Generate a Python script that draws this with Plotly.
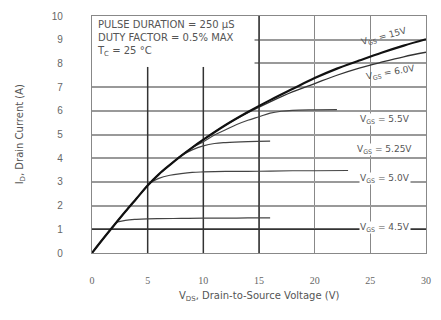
import plotly.graph_objects as go

# Output characteristics: drain current vs drain-to-source voltage
vds_main = [0, 1, 2, 3, 4, 5, 6, 7, 8, 9, 10, 12, 14, 16, 18, 20, 22, 24, 26, 28, 30]
id_15v = [0, 0.6, 1.18, 1.75, 2.3, 2.85, 3.32, 3.72, 4.1, 4.45, 4.78, 5.4, 5.95,
          6.45, 6.92, 7.38, 7.78, 8.12, 8.45, 8.75, 9.02]

vds_6v = [0, 1, 2, 3, 4, 5, 6, 7, 8, 9, 10, 12, 14, 16, 18, 20, 22, 24, 26, 28, 30]
id_6v = [0, 0.6, 1.18, 1.75, 2.3, 2.85, 3.32, 3.72, 4.1, 4.45, 4.78, 5.4, 5.92,
         6.38, 6.8, 7.15, 7.5, 7.8, 8.05, 8.28, 8.47]

vds_55v = [9, 10, 11, 12, 13, 14, 15, 16, 17, 18, 20, 22]
id_55v = [4.45, 4.7, 4.98, 5.2, 5.42, 5.6, 5.75, 5.9, 5.98, 6.02, 6.04, 6.05]

vds_525v = [7.5, 8, 9, 10, 11, 12, 14, 16]
id_525v = [3.92, 4.1, 4.35, 4.52, 4.62, 4.66, 4.7, 4.72]

vds_5v = [5.2, 6, 7, 8, 9, 10, 12, 15, 18, 20, 23]
id_5v = [2.95, 3.15, 3.28, 3.35, 3.4, 3.42, 3.44, 3.45, 3.47, 3.47, 3.48]

vds_45v = [2.2, 3, 4, 5, 6, 8, 10, 12, 14, 16]
id_45v = [1.3, 1.38, 1.42, 1.44, 1.45, 1.46, 1.47, 1.47, 1.48, 1.48]

x_ticks = [0, 5, 10, 15, 20, 25, 30]
y_ticks = [0, 1, 2, 3, 4, 5, 6, 7, 8, 9, 10]

curve_labels = ["V<sub>GS</sub> = 15V", "V<sub>GS</sub> = 6.0V", "V<sub>GS</sub> = 5.5V",
                "V<sub>GS</sub> = 5.25V", "V<sub>GS</sub> = 5.0V", "V<sub>GS</sub> = 4.5V"]
label_x = [26.3, 26.9, 26.3, 26.3, 26.3, 26.3]
label_y = [9.12, 7.62, 5.63, 4.38, 3.13, 1.08]
label_angle = [-15, -10, 0, 0, 0, 0]

TXT = "DejaVu Sans, Verdana, sans-serif"
GRAY = "#555"

fig = go.Figure()

branches = [
    (vds_6v, id_6v, 1.3, "#333"),
    (vds_55v, id_55v, 1.2, "#444"),
    (vds_525v, id_525v, 1.2, "#444"),
    (vds_5v, id_5v, 1.2, "#444"),
    (vds_45v, id_45v, 1.2, "#444"),
]
for xs, ys, w, c in branches:
    fig.add_trace(go.Scatter(x=xs, y=ys, mode="lines",
                             line=dict(color=c, width=w, shape="spline"),
                             hoverinfo="skip", showlegend=False))
fig.add_trace(go.Scatter(x=vds_main, y=id_15v, mode="lines",
                         line=dict(color="#111", width=2.2, shape="spline"),
                         hoverinfo="skip", showlegend=False))

# white note box in the upper-left corner, over the grid
fig.add_shape(type="rect", x0=0, x1=14.6, y0=7.85, y1=10, layer="between",
              line=dict(width=0), fillcolor="white")

# heavier grid lines
dark = "#333"
for xv, ytop in [(5, 7.85), (10, 7.85), (15, 10)]:
    fig.add_shape(type="line", x0=xv, x1=xv, y0=0, y1=ytop, layer="between",
                  line=dict(color=dark, width=1.5))
fig.add_shape(type="line", x0=0, x1=30, y0=1, y1=1, layer="between",
              line=dict(color=dark, width=1.6))

for txt, xv, yv, ang in zip(curve_labels, label_x, label_y, label_angle):
    fig.add_annotation(x=xv, y=yv, text=txt, showarrow=False, textangle=ang,
                       font=dict(family=TXT, size=9, color=GRAY),
                       bgcolor="white" if ang == 0 else "rgba(0,0,0,0)",
                       borderpad=0)

note = ("PULSE DURATION = 250 μS<br>DUTY FACTOR = 0.5% MAX<br>"
        "T<sub>C</sub> = 25 °C")
fig.add_annotation(x=0.3, y=9.97, xanchor="left", yanchor="top", text=note,
                   showarrow=False, align="left",
                   font=dict(family=TXT, size=10, color=GRAY))

fig.add_annotation(xref="paper", yref="paper", x=0.5, y=-0.184, yanchor="middle",
                   text="V<sub>DS</sub>, Drain-to-Source Voltage (V)", showarrow=False,
                   font=dict(family=TXT, size=10, color=GRAY))
fig.add_annotation(xref="paper", yref="paper", x=-0.213, xanchor="center",
                   y=0.5, textangle=-90,
                   text="I<sub>D</sub>, Drain Current (A)", showarrow=False,
                   font=dict(family=TXT, size=10, color=GRAY))

fig.update_xaxes(range=[0, 30], tickvals=x_ticks, showgrid=True, gridcolor="#888",
                 gridwidth=1.4, zeroline=False, showline=True, linecolor="#888",
                 linewidth=1.2, mirror=True, ticks="", ticklabelstandoff=18,
                 tickfont=dict(family="Liberation Serif, Times New Roman", size=10, color="#666"))
fig.update_yaxes(range=[0, 10], tickvals=y_ticks, showgrid=True, gridcolor="#999",
                 gridwidth=1.8, zeroline=False, showline=True, linecolor="#888",
                 linewidth=1.2, mirror=True, ticks="", ticklabelstandoff=26,
                 tickfont=dict(family="Liberation Sans, Arial", size=10, color="#666"))

fig.update_layout(width=441, height=320, margin=dict(l=92, r=10, t=14, b=67),
                  plot_bgcolor="white", paper_bgcolor="white", showlegend=False)

fig.write_html("out.html")
